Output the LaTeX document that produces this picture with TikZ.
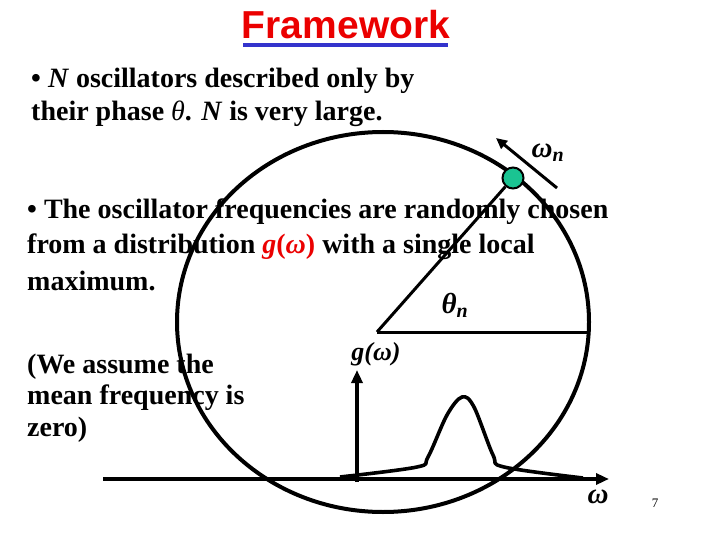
\documentclass[tikz,border=0pt]{standalone}
\usepackage{fontspec}
\setmainfont{Liberation Serif}
\newfontfamily\headfont{Liberation Sans}
\usetikzlibrary{arrows.meta,shapes.geometric}
\definecolor{titlered}{RGB}{235,0,0}
\definecolor{ruleblue}{RGB}{51,51,204}
\definecolor{dotgreen}{RGB}{26,196,146}
\tikzset{
  bodytext/.style = {anchor=base west, inner sep=0pt, align=left,
    font=\fontsize{28}{32}\selectfont\bfseries},
  maths/.style = {inner sep=0pt, font=\fontsize{29}{30}\selectfont\bfseries\itshape},
  thickline/.style = {line width=3.6pt, line join=round},
  axis/.style = {line width=3.6pt, -{Triangle[length=13pt,width=11pt]}},
  radius/.style = {line width=3pt}
}
\newcommand{\gom}{\textit{g}(\textit{ω})}

\begin{document}
\begin{tikzpicture}[x=1pt, y=-1pt]
\useasboundingbox (0,0) rectangle (720,540);

% title
\node[font=\headfont\bfseries\fontsize{39}{40}\selectfont, text=titlered,
  anchor=base, inner sep=0pt] (title) at (346,39) {Framework};
\draw[ruleblue, line width=4pt] (243,45) -- (448,45);

% text on the left (anchored at the last line)
\node[bodytext, font=\fontsize{28}{33}\selectfont\bfseries] (intro) at (31,121)
  {\textbullet\ \textit{N} oscillators described only by\\
  their phase \textit{\mdseries θ}. \textit{N} is very large.};
\node[bodytext, font=\fontsize{28}{36}\selectfont\bfseries] (freq) at (27,290)
  {\textbullet\ The oscillator frequencies are randomly chosen\\
  from a distribution \textcolor{titlered}{\textit{g}(\textit{ω})} with a single local\\
  maximum.};
\node[bodytext, font=\fontsize{28}{31.5}\selectfont\bfseries] (mean) at (27,436)
  {(We assume the\\ mean frequency is\\ zero)};

% phase circle
\node[ellipse, draw, line width=4pt, minimum width=412pt, minimum height=380pt,
  inner sep=0pt] (ring) at (383,322) {};
\coordinate (vertex) at (377,332);
\coordinate (rim) at (590,332);
\node[circle, draw, line width=2pt, fill=dotgreen, minimum size=21pt,
  inner sep=0pt] (osc) at (513,178) {};
\draw[radius] (vertex) -- (rim);
\draw[radius] (vertex) -- (osc);
\coordinate (tanfrom) at (557,188);
\coordinate (tanto) at (496,138);
\draw[line width=3pt, -{Triangle[length=11pt,width=10pt]}] (tanfrom) -- (tanto);
\node[maths] (omn) at (548,153) {ω\textsubscript{\fontsize{20}{20}\selectfont n}};
\node[maths] (thn) at (455,305) {θ\textsubscript{\fontsize{20}{20}\selectfont n}};

% distribution g(omega)
\coordinate (origin) at (357,482);
\coordinate (ytop) at (357,370);
\coordinate (xstart) at (103,479);
\coordinate (xend) at (609,479);
\draw[axis] (xstart) -- (xend);
\draw[axis] (origin) -- (ytop);
\node[maths, font=\fontsize{26}{28}\selectfont\bfseries\itshape] (gl) at (376,354) {\gom};
\node[maths] (wl) at (598,497) {ω};
\draw[thickline] plot[smooth, tension=0.55] coordinates {(340,477) (417,467) (428,457)
  (447,415) (462,397) (474,407) (493,455) (504,467) (583,478)};

\node[font=\fontsize{13}{14}\selectfont, inner sep=0pt] (page) at (655,503) {7};
\end{tikzpicture}
\end{document}
